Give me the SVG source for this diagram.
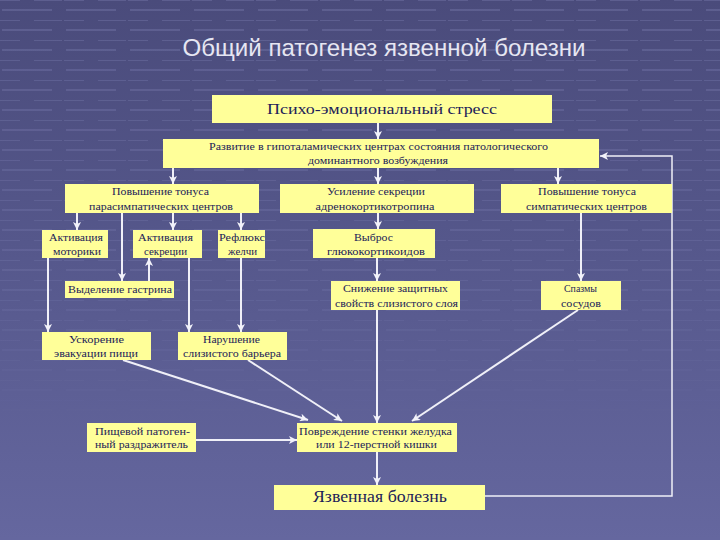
<svg xmlns="http://www.w3.org/2000/svg" width="720" height="540" viewBox="0 0 720 540">
<defs>
<linearGradient id="bg" x1="0" y1="0" x2="0" y2="1">
<stop offset="0" stop-color="#4a4b7b"/>
<stop offset="0.45" stop-color="#55578b"/>
<stop offset="1" stop-color="#65679f"/>
</linearGradient>
<pattern id="grid" width="64" height="20" patternUnits="userSpaceOnUse">
<rect x="0" y="0" width="64" height="20" fill="none"/>
<line x1="2" y1="10" x2="52" y2="10" stroke="#8a8cc0" stroke-width="2"/>
<line x1="34" y1="0" x2="62" y2="0" stroke="#8a8cc0" stroke-width="2"/>
<line x1="0" y1="0" x2="20" y2="0" stroke="#8a8cc0" stroke-width="2"/>
</pattern>
<linearGradient id="fade" x1="0" y1="0" x2="0" y2="1">
<stop offset="0" stop-color="#fff" stop-opacity="0.3"/>
<stop offset="0.5" stop-color="#fff" stop-opacity="0.2"/>
<stop offset="0.8" stop-color="#fff" stop-opacity="0"/>
</linearGradient>
<mask id="m"><rect width="720" height="540" fill="url(#fade)"/></mask>
<marker id="ah" markerUnits="userSpaceOnUse" markerWidth="9" markerHeight="8" refX="8" refY="4" orient="auto">
<path d="M0,0 L8,4 L0,8 L2,4 Z" fill="#f2f2fa"/>
</marker>
<style>
.box{fill:#ffff99;}
.t{font-family:"Liberation Serif","DejaVu Serif","Times New Roman",serif;font-size:11px;fill:#1c1c58;text-anchor:middle;}
.big{font-size:15px;}
.huge{font-size:17px;}
.c{stroke:#f0f0f8;stroke-width:2;fill:none;marker-end:url(#ah);}
.fb{stroke:#f0f0f8;stroke-width:1.5;fill:none;marker-end:url(#ah);}
</style>
</defs>
<rect width="720" height="540" fill="url(#bg)"/>
<rect width="720" height="540" fill="url(#grid)" mask="url(#m)"/>
<text x="384" y="56" font-family="'Liberation Sans',Arial,sans-serif" font-size="24" fill="#e6e6f2" text-anchor="middle" textLength="403" lengthAdjust="spacingAndGlyphs">Общий патогенез язвенной болезни</text>

<g id="connectors">
<line class="c" x1="378" y1="122" x2="378" y2="139"/>
<line class="c" x1="173" y1="168" x2="173" y2="184"/>
<line class="c" x1="378" y1="168" x2="378" y2="184"/>
<line class="c" x1="558" y1="168" x2="558" y2="184"/>
<line class="c" x1="77" y1="213" x2="77" y2="230"/>
<line class="c" x1="173" y1="213" x2="173" y2="230"/>
<line class="c" x1="241" y1="213" x2="241" y2="230"/>
<line class="c" x1="122" y1="213" x2="122" y2="281"/>
<line class="c" x1="149" y1="281" x2="149" y2="258"/>
<line class="c" x1="378" y1="213" x2="378" y2="229"/>
<line class="c" x1="581" y1="213" x2="581" y2="281"/>
<line class="c" x1="48" y1="258" x2="48" y2="332"/>
<line class="c" x1="189" y1="258" x2="189" y2="332"/>
<line class="c" x1="241" y1="258" x2="241" y2="332"/>
<line class="c" x1="377" y1="258" x2="377" y2="281"/>
<line class="c" x1="377" y1="310" x2="377" y2="423"/>
<line class="c" x1="578" y1="310" x2="412" y2="421"/>
<line class="c" x1="123" y1="360" x2="308" y2="420"/>
<line class="c" x1="248" y1="360" x2="342" y2="421"/>
<line class="c" x1="196" y1="440" x2="297" y2="440"/>
<line class="c" x1="377" y1="452" x2="377" y2="485"/>
<polyline class="fb" points="485,496 672,496 672,156 600,156"/>
</g>

<g id="n1"><rect class="box" x="212" y="95" width="340" height="28"/>
<text class="t big" x="382" y="114" textLength="230" lengthAdjust="spacingAndGlyphs">Психо-эмоциональный стресс</text></g>

<g id="n2"><rect class="box" x="163" y="139" width="436" height="29"/>
<text class="t" x="378.5" y="150" textLength="339" lengthAdjust="spacingAndGlyphs">Развитие в гипоталамических центрах состояния патологического</text>
<text class="t" x="378" y="164" textLength="140" lengthAdjust="spacingAndGlyphs">доминантного возбуждения</text></g>

<g id="n3"><rect class="box" x="65" y="184" width="194" height="29"/>
<text class="t" x="160.5" y="195" textLength="97" lengthAdjust="spacingAndGlyphs">Повышение тонуса</text>
<text class="t" x="161" y="210" textLength="144" lengthAdjust="spacingAndGlyphs">парасимпатических центров</text></g>

<g id="n4"><rect class="box" x="280" y="184" width="194" height="29"/>
<text class="t" x="376" y="195" textLength="98" lengthAdjust="spacingAndGlyphs">Усиление секреции</text>
<text class="t" x="375" y="210" textLength="119" lengthAdjust="spacingAndGlyphs">адренокортикотропина</text></g>

<g id="n5"><rect class="box" x="501" y="184" width="171" height="29"/>
<text class="t" x="587" y="195" textLength="98" lengthAdjust="spacingAndGlyphs">Повышение тонуса</text>
<text class="t" x="586.5" y="210" textLength="121" lengthAdjust="spacingAndGlyphs">симпатических центров</text></g>

<g id="n6"><rect class="box" x="42" y="230" width="66" height="28"/>
<text class="t" x="76" y="241" textLength="54" lengthAdjust="spacingAndGlyphs">Активация</text>
<text class="t" x="77" y="255" textLength="48" lengthAdjust="spacingAndGlyphs">моторики</text></g>

<g id="n7"><rect class="box" x="133" y="230" width="69" height="28"/>
<text class="t" x="165.5" y="241" textLength="55" lengthAdjust="spacingAndGlyphs">Активация</text>
<text class="t" x="165.5" y="255" textLength="43" lengthAdjust="spacingAndGlyphs">секреции</text></g>

<g id="n8"><rect class="box" x="218" y="230" width="47" height="28"/>
<text class="t" x="242" y="241" textLength="46" lengthAdjust="spacingAndGlyphs">Рефлюкс</text>
<text class="t" x="242.5" y="255" textLength="29" lengthAdjust="spacingAndGlyphs">желчи</text></g>

<g id="n9"><rect class="box" x="313" y="229" width="122" height="29"/>
<text class="t" x="373.5" y="241" textLength="39" lengthAdjust="spacingAndGlyphs">Выброс</text>
<text class="t" x="376" y="255" textLength="98" lengthAdjust="spacingAndGlyphs">глюкокортикоидов</text></g>

<g id="n10"><rect class="box" x="65" y="281" width="109" height="17"/>
<text class="t" x="120" y="293" textLength="104" lengthAdjust="spacingAndGlyphs">Выделение гастрина</text></g>

<g id="n11"><rect class="box" x="331" y="281" width="129" height="29"/>
<text class="t" x="395.5" y="292" textLength="105" lengthAdjust="spacingAndGlyphs">Снижение защитных</text>
<text class="t" x="396.5" y="307" textLength="123" lengthAdjust="spacingAndGlyphs">свойств слизистого слоя</text></g>

<g id="n12"><rect class="box" x="541" y="281" width="80" height="29"/>
<text class="t" x="580.5" y="292" textLength="33" lengthAdjust="spacingAndGlyphs">Спазмы</text>
<text class="t" x="581" y="307" textLength="40" lengthAdjust="spacingAndGlyphs">сосудов</text></g>

<g id="n13"><rect class="box" x="42" y="332" width="109" height="28"/>
<text class="t" x="96.5" y="343" textLength="55" lengthAdjust="spacingAndGlyphs">Ускорение</text>
<text class="t" x="96" y="357" textLength="84" lengthAdjust="spacingAndGlyphs">эвакуации пищи</text></g>

<g id="n14"><rect class="box" x="178" y="332" width="109" height="28"/>
<text class="t" x="231.5" y="343" textLength="57" lengthAdjust="spacingAndGlyphs">Нарушение</text>
<text class="t" x="232" y="357" textLength="98" lengthAdjust="spacingAndGlyphs">слизистого барьера</text></g>

<g id="n15"><rect class="box" x="87" y="423" width="109" height="29"/>
<text class="t" x="142.5" y="435" textLength="95" lengthAdjust="spacingAndGlyphs">Пищевой патоген-</text>
<text class="t" x="141.5" y="448" textLength="93" lengthAdjust="spacingAndGlyphs">ный раздражитель</text></g>

<g id="n16"><rect class="box" x="297" y="423" width="160" height="29"/>
<text class="t" x="375.5" y="435" textLength="153" lengthAdjust="spacingAndGlyphs">Повреждение стенки желудка</text>
<text class="t" x="376.5" y="448" textLength="121" lengthAdjust="spacingAndGlyphs">или 12-перстной кишки</text></g>

<g id="n17"><rect class="box" x="274" y="485" width="211" height="25"/>
<text class="t huge" x="380" y="502" textLength="134" lengthAdjust="spacingAndGlyphs">Язвенная болезнь</text></g>
</svg>
